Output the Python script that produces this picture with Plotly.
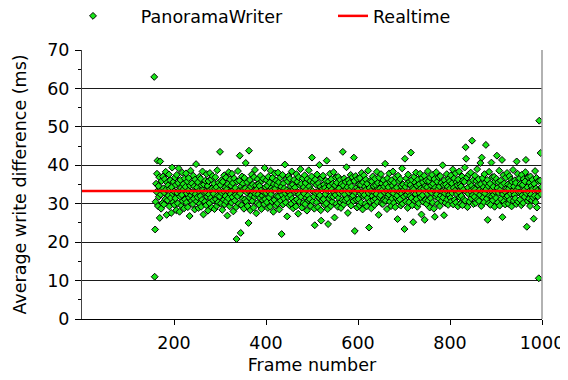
import plotly.graph_objects as go

# Average write difference (ms) per frame.
start_a = 157
diff_a = [63.0, 11.0, 23.3, 30.5, 35.2, 33.1, 37.8, 41.2, 29.4, 34.6,
          31.8, 36.9, 26.3, 41.0, 32.4, 28.7, 35.9, 33.6, 30.2, 37.1,
          34.0, 29.8, 32.9, 36.4, 31.2, 38.3, 33.7, 27.1, 35.5, 30.9,
          34.8, 32.1, 37.6, 29.3, 33.9, 36.1, 31.5, 27.6, 34.3, 39.4,
          32.6, 30.4, 35.7]
start_b = 200
diff_b = [33.2, 29.7, 36.8, 31.4, 34.9, 28.3, 37.5, 32.8, 30.1, 35.4,
          39.2, 33.5, 27.9, 31.9, 36.2, 34.1, 29.5, 32.3, 38.1, 30.7,
          35.1, 33.8, 28.8, 36.6, 31.1, 34.4, 37.9, 30.3, 32.7, 35.8,
          29.1, 33.4, 36.7, 31.6, 26.8, 34.7, 38.6, 32.2, 30.8, 35.3,
          33.0, 29.9, 37.3, 31.3, 34.5, 28.5, 36.3, 32.5, 40.3, 30.6,
          34.2, 31.7, 35.6, 28.9, 33.3, 37.0, 30.0, 32.0, 36.5, 29.2,
          34.8, 31.0, 38.4, 33.6, 27.2, 35.0, 32.9, 30.5, 36.0, 33.1,
          29.6, 37.7, 31.8, 34.6, 28.2, 35.9, 32.4, 30.2, 38.0, 33.7,
          31.5, 36.4, 29.0, 34.0, 37.2, 30.9, 32.6, 35.2, 28.6, 33.9,
          36.9, 31.2, 34.3, 29.4, 38.7, 32.1, 30.4, 35.5, 33.4, 31.9]
start_c = 300
diff_c = [43.5, 34.9, 30.1, 36.1, 32.8, 28.4, 35.7, 33.3, 31.0, 37.4,
          29.8, 34.2, 32.0, 36.8, 30.6, 33.8, 26.9, 35.1, 31.4, 38.2,
          33.0, 29.3, 36.3, 32.5, 34.7, 30.3, 37.8, 31.7, 35.4, 28.0,
          33.6, 36.6, 30.8, 34.1, 32.3, 29.1, 20.8, 35.8, 31.9, 38.5,
          33.2, 30.0, 36.0, 42.5, 32.7, 22.4, 34.5, 29.6, 37.1, 31.3,
          35.3, 33.9, 28.7, 36.7, 31.1, 34.0, 40.6, 30.5, 32.9, 35.6,
          29.4, 33.5, 25.0, 43.8, 31.6, 36.2, 28.3, 34.4, 32.2, 37.6,
          30.7, 35.0, 33.1, 29.0, 36.9, 31.8, 38.8, 32.6, 34.8, 27.5,
          33.7, 30.2, 36.4, 32.4, 35.2, 29.7, 34.6, 31.5, 37.3, 33.4,
          28.6, 35.9, 32.1, 30.9, 36.5, 33.0, 29.9, 39.3, 31.2, 34.3]
start_d = 400
diff_d = [32.8, 36.1, 30.4, 34.7, 28.9, 37.0, 33.2, 31.6, 35.5, 29.2,
          38.6, 32.5, 34.1, 30.6, 36.7, 33.6, 27.9, 35.1, 31.0, 37.9,
          33.9, 29.5, 36.0, 32.0, 34.9, 30.1, 38.1, 31.9, 35.6, 28.5,
          33.3, 36.8, 30.8, 34.4, 22.1, 32.3, 37.5, 29.8, 35.3, 31.4,
          34.0, 40.2, 32.7, 30.3, 36.3, 33.5, 26.7, 35.8, 31.7, 37.2,
          33.1, 29.6, 36.5, 32.2, 34.6, 30.0, 38.4, 31.3, 35.0, 28.8,
          33.8, 36.2, 30.7, 34.2, 32.9, 29.3, 37.7, 31.1, 35.7, 33.0,
          27.4, 36.9, 32.4, 30.5, 34.8, 39.0, 31.8, 35.2, 29.0, 33.4,
          36.6, 30.2, 34.3, 32.6, 37.4, 29.9, 35.4, 31.5, 33.7, 28.2,
          36.4, 32.1, 30.9, 38.7, 34.5, 31.2, 35.9, 29.4, 33.6, 37.1]
start_e = 500
diff_e = [42.0, 33.3, 30.6, 35.6, 31.9, 28.7, 24.4, 36.3, 32.8, 34.9,
          30.3, 37.6, 33.1, 29.1, 35.3, 31.6, 40.1, 32.2, 34.4, 28.3,
          25.6, 36.7, 30.8, 33.9, 37.3, 31.2, 35.0, 29.7, 34.1, 32.5,
          36.0, 30.1, 41.2, 33.5, 28.6, 24.7, 35.8, 31.4, 34.6, 37.8,
          32.0, 29.4, 36.4, 33.7, 30.5, 35.2, 31.8, 38.2, 33.0, 26.4,
          34.8, 32.3, 36.8, 30.0, 35.5, 33.4, 29.2, 37.0, 31.5, 34.0,
          32.7, 36.2, 30.4, 28.9, 35.1, 33.2, 31.0, 43.5, 34.7, 29.8,
          36.6, 32.4, 30.9, 35.7, 33.8, 39.5, 31.3, 34.3, 27.6, 36.1,
          32.9, 30.2, 35.4, 33.6, 37.5, 29.5, 34.5, 31.7, 36.9, 32.1,
          30.7, 42.0, 35.9, 22.9, 33.0, 37.2, 31.1, 34.2, 29.0, 36.5]
start_f = 600
diff_f = [33.5, 31.2, 35.0, 29.6, 36.7, 32.6, 34.9, 30.3, 38.0, 33.1,
          28.5, 35.6, 31.9, 37.4, 32.3, 34.4, 30.0, 36.3, 33.7, 29.3,
          35.2, 31.5, 38.6, 32.8, 23.8, 34.1, 30.6, 36.0, 33.3, 28.8,
          35.8, 32.0, 37.1, 30.9, 34.6, 33.0, 29.7, 36.5, 31.3, 34.8,
          32.5, 38.3, 30.4, 35.4, 33.9, 27.1, 36.8, 31.7, 34.0, 32.2,
          37.7, 30.1, 35.3, 33.6, 29.9, 36.2, 31.0, 34.5, 32.9, 40.4,
          30.8, 35.1, 33.4, 28.6, 36.6, 31.8, 34.3, 32.4, 37.9, 30.5,
          35.7, 33.2, 29.4, 36.1, 31.4, 34.7, 38.4, 32.7, 30.2, 35.5,
          33.8, 29.1, 36.9, 31.6, 34.2, 32.1, 26.0, 37.3, 30.7, 35.9,
          33.1, 31.1, 36.4, 29.5, 34.6, 32.6, 39.2, 30.0, 35.0, 33.5]
start_g = 700
diff_g = [31.9, 23.4, 41.7, 34.4, 30.6, 36.6, 32.3, 35.3, 28.9, 37.6,
          33.0, 30.4, 35.8, 32.0, 34.9, 43.3, 31.5, 36.2, 29.6, 34.1,
          25.2, 33.7, 37.0, 30.8, 35.5, 32.5, 38.1, 31.2, 34.7, 29.2,
          36.3, 33.3, 30.1, 35.1, 32.8, 37.8, 31.7, 34.0, 27.2, 36.7,
          32.2, 35.6, 30.5, 33.9, 37.3, 25.8, 34.6, 31.0, 36.0, 29.9,
          34.3, 32.6, 38.5, 30.9, 35.9, 33.4, 29.0, 36.8, 31.4, 34.8,
          32.9, 37.5, 30.3, 35.2, 33.6, 28.7, 36.4, 26.6, 34.2, 31.8,
          38.2, 32.4, 35.7, 30.0, 33.8, 36.9, 31.3, 34.5, 29.4, 37.2,
          32.1, 35.4, 30.7, 33.2, 40.0, 31.6, 34.9, 27.0, 36.1, 32.7,
          30.2, 35.0, 33.5, 37.7, 31.1, 34.4, 29.7, 36.5, 32.3, 35.8]
start_h = 800
diff_h = [33.9, 31.5, 37.4, 30.6, 35.3, 32.8, 38.9, 29.8, 34.1, 36.6,
          31.0, 33.4, 37.9, 30.3, 35.6, 32.5, 34.8, 29.3, 36.3, 33.1,
          38.4, 31.7, 35.0, 30.0, 34.5, 32.0, 37.1, 29.6, 36.0, 33.6,
          31.2, 35.7, 39.4, 30.8, 44.7, 41.7, 33.0, 36.8, 29.1, 34.2,
          32.6, 37.6, 30.5, 35.4, 33.3, 38.1, 31.4, 34.7, 46.4, 32.2,
          36.1, 29.9, 34.0, 31.8, 37.3, 33.7, 30.2, 35.9, 32.9, 39.0,
          31.1, 34.9, 36.4, 30.7, 33.5, 32.3, 40.6, 35.1, 29.4, 42.0,
          33.2, 36.7, 31.6, 34.3, 30.4, 37.7, 32.7, 35.5, 45.3, 33.8,
          31.3, 36.2, 25.8, 34.6, 30.1, 38.3, 32.1, 35.2, 29.7, 33.4,
          40.7, 31.9, 36.9, 30.9, 34.4, 32.4, 37.0, 29.2, 35.8, 33.0]
start_i = 900
diff_i = [31.5, 36.5, 42.5, 34.1, 30.3, 35.6, 32.8, 38.6, 29.5, 33.6,
          36.0, 31.2, 34.8, 41.4, 26.5, 32.5, 37.4, 30.6, 35.3, 33.2,
          29.8, 36.8, 31.7, 34.0, 38.0, 32.0, 35.0, 30.0, 33.9, 37.2,
          31.0, 34.7, 32.6, 36.3, 29.3, 35.7, 33.3, 38.8, 30.8, 34.5,
          32.3, 36.1, 31.4, 35.4, 29.9, 41.0, 33.7, 37.8, 30.5, 34.2,
          32.9, 36.6, 31.1, 35.1, 33.0, 29.6, 37.5, 32.2, 34.9, 30.2,
          36.4, 33.5, 31.8, 35.8, 38.2, 41.4, 32.7, 24.0, 34.3, 30.7,
          36.9, 33.1, 31.3, 35.5, 29.4, 37.1, 32.4, 34.6, 30.9, 36.2,
          33.8, 31.6, 26.1, 35.2, 32.1, 38.5, 30.4, 34.0, 36.7, 29.0,
          33.4, 31.9, 35.9, 10.6, 51.6, 33.0, 36.0, 43.2, 32.5, 34.4]

realtime_ms = 1000.0 / 30.0
x_range = [0, 1000]
x_ticks = [200, 400, 600, 800, 1000]
y_ticks = [0, 10, 20, 30, 40, 50, 60, 70]
y_minor = [5, 15, 25, 35, 45, 55, 65]

blocks = [(start_a, diff_a), (start_b, diff_b), (start_c, diff_c), (start_d, diff_d),
          (start_e, diff_e), (start_f, diff_f), (start_g, diff_g), (start_h, diff_h),
          (start_i, diff_i)]
frames, diffs = [], []
for s, vals in blocks:
    for k, v in enumerate(vals):
        frames.append(s + k)
        diffs.append(v)

FONT = "DejaVu Sans"
FS = 17.5
nb = "\u00a0"

fig = go.Figure()
fig.add_trace(go.Scatter(
    x=frames, y=diffs, mode="markers",
    name=nb * 5 + "PanoramaWriter",
    marker=dict(symbol="diamond", size=5.3, color="#18e618",
                line=dict(color="black", width=1)),
))
fig.add_trace(go.Scatter(
    x=x_range, y=[realtime_ms, realtime_ms], mode="lines",
    name="Realtime", line=dict(color="#ff0000", width=2.5),
))

# the page body adds an 8px offset, so the figure is laid out 8px up/left
OFF = 8
PL, PR, PT, PB = 82 - OFF, 542 - OFF, 50 - OFF, 319 - OFF
pw, ph = PR - PL, PB - PT

fig.update_layout(
    width=568, height=380,
    margin=dict(l=PL, r=568 - PR, t=PT, b=380 - PB, autoexpand=False),
    paper_bgcolor="white", plot_bgcolor="white",
    font=dict(family=FONT, size=FS, color="black"),
    showlegend=True,
    legend=dict(orientation="h", x=(73 - 82) / pw, y=1 + (50 - 16) / ph,
                yanchor="middle", xanchor="left", font=dict(size=FS),
                entrywidth=215, entrywidthmode="pixels",
                bgcolor="rgba(0,0,0,0)", tracegroupgap=0),
)

fig.update_xaxes(
    range=x_range, tickvals=x_ticks, ticks="outside", ticklen=5, tickcolor="black",
    showgrid=False, zeroline=False, showline=True, linecolor="black", linewidth=1,
    title=dict(text="Frame number", standoff=6, font=dict(size=FS)),
    tickfont=dict(size=FS), ticklabelstandoff=3,
)
fig.update_yaxes(
    range=[0, 70], tickvals=y_ticks, ticks="outside", ticklen=6, tickcolor="black",
    showgrid=True, gridcolor="#1a1a1a", gridwidth=1, zeroline=False,
    showline=True, linecolor="#444444", linewidth=1,
    minor=dict(tickvals=y_minor, ticks="outside", ticklen=3,
               tickcolor="black", showgrid=False),
    title=dict(text="Average write difference (ms)", standoff=16, font=dict(size=FS)),
    tickfont=dict(size=FS), ticklabelstandoff=2,
)
# right-hand border line at x = 1000
fig.add_shape(type="line", xref="paper", yref="paper", x0=1, x1=1, y0=0, y1=1,
              line=dict(color="#999999", width=1.5))

fig.write_html("out.html")
